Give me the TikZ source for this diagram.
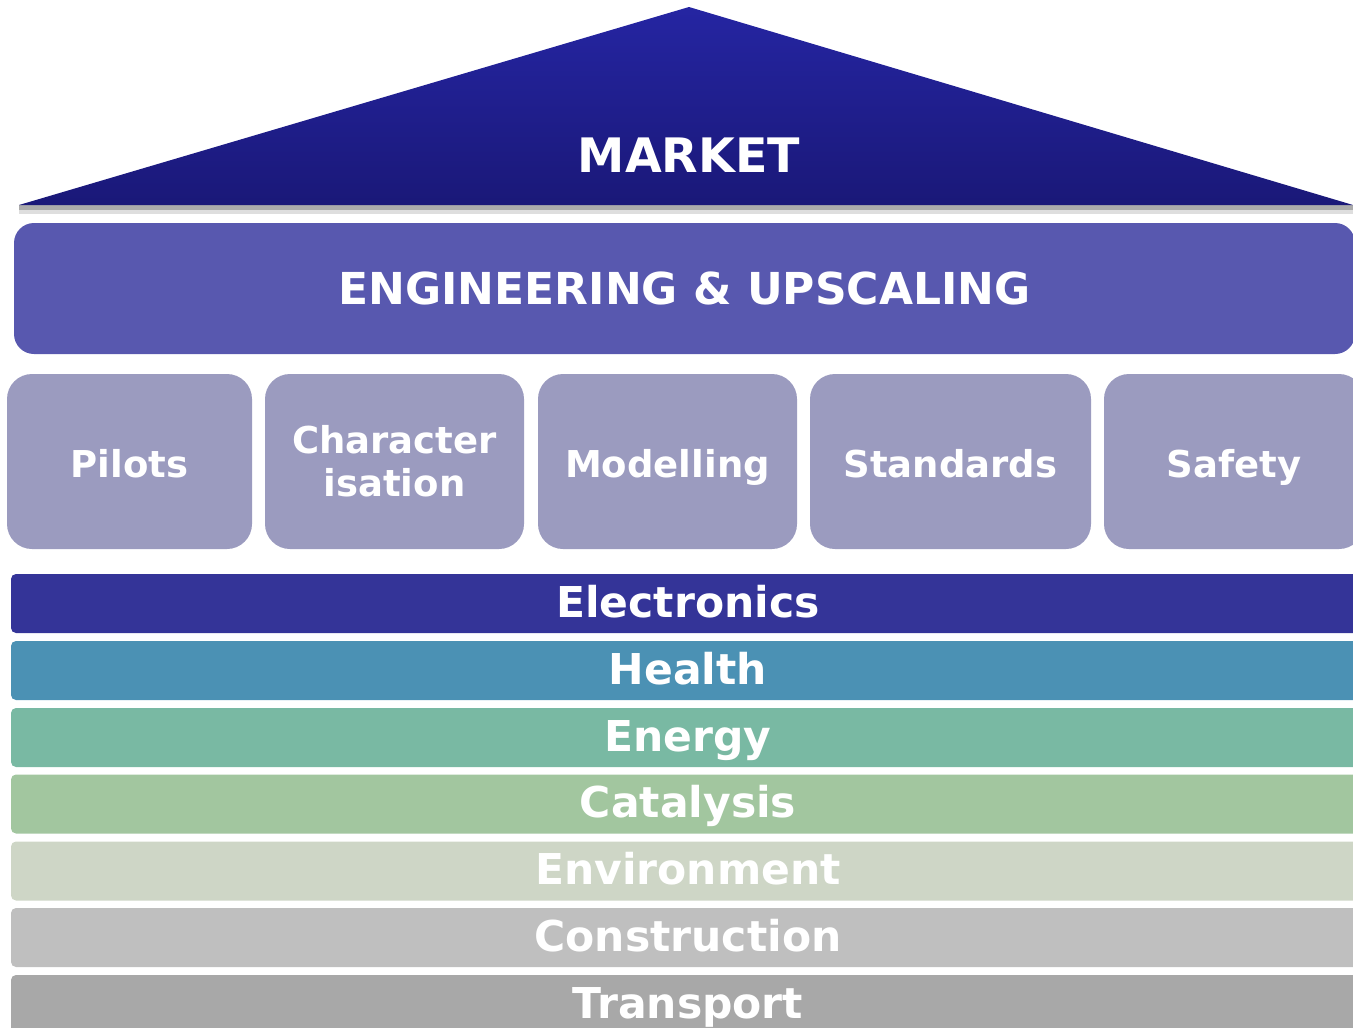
\documentclass[tikz,border=0pt]{standalone}
\usepackage{fontspec}
\setmainfont{DejaVu Sans}
\definecolor{triTop}{HTML}{2525A2}
\definecolor{triBot}{HTML}{1A1878}
\definecolor{engC}{HTML}{5858AF}
\definecolor{pilC}{HTML}{9B9BBF}
\definecolor{elecC}{HTML}{343498}
\definecolor{healC}{HTML}{4B91B4}
\definecolor{enerC}{HTML}{79B9A3}
\definecolor{cataC}{HTML}{A2C69F}
\definecolor{enviC}{HTML}{CED6C6}
\definecolor{consC}{HTML}{BFBFBF}
\definecolor{tranC}{HTML}{A8A8A8}
\begin{document}
\begin{tikzpicture}[x=1pt,y=-1pt,
  lbl/.style={text=white,font=\bfseries},
  pillar/.style={fill=pilC,rounded corners=25pt,minimum height=175pt,inner sep=0pt,
    text=white,font=\bfseries\fontsize{37}{43}\selectfont,align=center},
  pilone/.style={pillar,text height=33pt,text depth=2pt},
  band/.style={rounded corners=5pt,minimum width=1354pt,minimum height=59pt,inner sep=0pt,
    text=white,font=\bfseries\fontsize{42.5}{48}\selectfont,text height=29pt,text depth=2pt}]
\useasboundingbox (0,0) rectangle (1353,1028);
\clip (0,0) rectangle (1353,1028);
% roof shadow
\fill[black!13] (19,205) rectangle (1353,214);
\fill[black!33] (19,205) rectangle (1353,210);
% roof
\shade[top color=triTop,bottom color=triBot] (19,205) -- (689,7) -- (1353,205) -- cycle;
\node[lbl,font=\bfseries\fontsize{47.5}{52}\selectfont,anchor=base] (market) at (689,172) {MARKET};
% engineering
\node[fill=engC,rounded corners=20pt,minimum width=1341pt,minimum height=131pt,inner sep=0pt,
  text=white,font=\bfseries\fontsize{44}{50}\selectfont,text height=33pt,text depth=2pt] (eng) at (684.5,288.5) {ENGINEERING \& UPSCALING};
% pillars
\node[pilone,minimum width=245pt] (pilots) at (129.5,461.5) {Pilots};
\node[pillar,minimum width=259pt] (charac) at (394.5,461.5) {Character\\isation};
\node[pilone,minimum width=259pt] (model) at (667.5,461.5) {Modelling};
\node[pilone,minimum width=281pt] (stand) at (950.5,461.5) {Standards};
\node[pilone,minimum width=260pt] (safety) at (1234,461.5) {Safety};
% bands
\node[band,fill=elecC] (elec) at (688,603.5) {Electronics};
\node[band,fill=healC] (heal) at (688,670.5) {Health};
\node[band,fill=enerC] (ener) at (688,737.5) {Energy};
\node[band,fill=cataC] (cata) at (688,804) {Catalysis};
\node[band,fill=enviC] (envi) at (688,871) {Environment};
\node[band,fill=consC] (cons) at (688,937.5) {Construction};
\node[band,fill=tranC] (tran) at (688,1004.5) {Transport};
\end{tikzpicture}
\end{document}
